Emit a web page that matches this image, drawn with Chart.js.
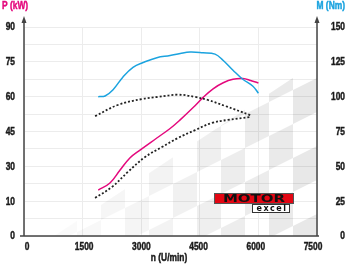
<!DOCTYPE html>
<html>
<head>
<meta charset="utf-8">
<script src="https://cdn.jsdelivr.net/npm/chart.js@4/dist/chart.umd.min.js"></script>
<style>
    html, body { margin: 0; padding: 0; background: #fff; }
    #wrap { width: 346px; height: 265px; position: relative; }
</style>
</head>
<body>
<div id="wrap"><canvas id="chart"></canvas></div>
<script>
// Axis tick labels
const pLabels = ['0', '10', '30', '45', '60', '75', '90'];
const mLabels = ['0', '25', '50', '75', '100', '125', '150'];
const nLabels = ['0', '1500', '3000', '4500', '6000', '7500'];

// Power P (kW) - new engine
const powerRpm = [1900, 2200, 2460, 2710, 2970, 3400, 3740, 3990, 4330, 4580, 4840, 5100, 5350, 5600, 5800, 6000];
const powerKw = [19.8, 22.8, 28.4, 33.6, 37, 42.2, 46.3, 49.9, 55.3, 59.6, 63.4, 66, 67.5, 67.8, 67, 65.9];

// Torque M (Nm) - new engine
const torqueRpm = [1900, 2075, 2280, 2530, 2790, 3050, 3400, 3740, 4000, 4250, 4580, 4890, 5100, 5350, 5600, 5860, 6000];
const torqueNm = [100, 100.5, 105, 114, 121, 124.5, 128, 129.5, 131, 132, 131.5, 130.5, 126, 119, 112.5, 107.5, 102.5];

// Comparison engine (dotted)
const cmpPowerRpm = [1820, 2250, 2660, 3100, 3530, 3940, 4380, 4810, 5220, 5790];
const cmpPowerKw = [16.4, 21.1, 27.6, 34, 38.3, 42.2, 45.6, 48.7, 50, 51.2];
const cmpTorqueRpm = [1820, 2400, 3020, 3430, 3940, 4380, 4710, 5150, 5790];
const cmpTorqueNm = [86, 94, 98.3, 99.8, 101.4, 99.8, 97.6, 93.3, 86.8];

const colors = {
    power: '#e4097d',
    torque: '#1ba3df',
    compare: '#222222',
    axis: '#444444',
    grid: '#ececec',
    text: '#1a1a1a'
};

const FONT = "'Liberation Sans', Arial, sans-serif";

function toPoints(xs, ys) {
    return xs.map((x, i) => ({ x: x, y: ys[i] }));
}

function lineSet(label, xs, ys, color, axis, dashed) {
    return {
        label: label,
        data: toPoints(xs, ys),
        yAxisID: axis,
        borderColor: color,
        borderWidth: dashed ? 1.8 : 1.5,
        borderDash: dashed ? [2, 2] : [],
        pointRadius: 0,
        fill: false,
        tension: 0.4
    };
}

// condensed bold text (no narrow font installed, so squeeze it)
function narrowText(ctx, text, x, y, align, color, size) {
    ctx.save();
    ctx.translate(x, y);
    ctx.scale(0.8, 1);
    ctx.font = 'bold ' + size + 'px ' + FONT;
    ctx.textAlign = align;
    ctx.textBaseline = 'middle';
    ctx.fillStyle = color;
    ctx.strokeStyle = color;
    ctx.lineWidth = 0.45;
    ctx.fillText(text, 0, 0);
    ctx.strokeText(text, 0, 0);
    ctx.restore();
}

// Light checkered flag in the background
const flagBackground = {
    id: 'flagBackground',
    beforeDatasetsDraw(chart) {
        const { ctx, chartArea: { left, right, top, bottom } } = chart;
        ctx.save();
        ctx.beginPath();
        ctx.moveTo(left + 30, bottom);
        ctx.lineTo(right, bottom);
        ctx.lineTo(right, top + 35);
        ctx.closePath();
        ctx.clip();
        ctx.translate(right, bottom);
        ctx.transform(1, -0.5, 0, 1, 0, 0);
        ctx.fillStyle = '#000';
        const w = 24, h = 34;
        for (let i = 0; i < 12; i++) {
            ctx.globalAlpha = Math.max(0.015, 0.09 - i * 0.007);
            for (let j = -2; j < 8; j++) {
                if ((i + j) % 2 === 0) ctx.fillRect(-(i + 1) * w, -(j + 1) * h + 12, w, h);
            }
        }
        ctx.restore();
    }
};

// Axis lines with arrows, labels, titles and logo
const axisDecor = {
    id: 'axisDecor',
    afterDraw(chart) {
        const { ctx, chartArea: { left, right, bottom } } = chart;
        const sx = chart.scales.x, sp = chart.scales.yP, sm = chart.scales.yM;
        ctx.save();
        ctx.strokeStyle = colors.axis;
        ctx.fillStyle = colors.axis;
        ctx.lineWidth = 1.5;
        ctx.beginPath();
        ctx.moveTo(left, bottom);
        ctx.lineTo(left, 21);
        ctx.moveTo(right, bottom);
        ctx.lineTo(right, 21);
        ctx.moveTo(20, bottom);
        ctx.lineTo(right + 2, bottom);
        ctx.stroke();
        [left, right].forEach(x => {
            ctx.beginPath();
            ctx.moveTo(x - 2.5, 23);
            ctx.lineTo(x + 2.5, 23);
            ctx.lineTo(x, 16);
            ctx.closePath();
            ctx.fill();
        });
        ctx.restore();

        // tick labels
        nLabels.forEach((t, i) => {
            narrowText(ctx, t, sx.getPixelForValue(i * 1500) + 3 - i * 1.4, 247, 'center', colors.text, 10.5);
        });
        pLabels.forEach((t, i) => {
            narrowText(ctx, t, 15, sp.getPixelForValue(i * 15) + 0.5, 'right', colors.text, 10.5);
        });
        mLabels.forEach((t, i) => {
            narrowText(ctx, t, 345, sm.getPixelForValue(i * 25) + 0.5, 'right', colors.text, 10.5);
        });
        narrowText(ctx, 'n (U/min)', 169, 258, 'center', colors.text, 10.5);
        narrowText(ctx, 'P (kW)', 2, 6, 'left', colors.power, 10.5);
        narrowText(ctx, 'M (Nm)', 345, 6, 'right', colors.torque, 10.5);

        // MOTOR excel logo
        ctx.save();
        ctx.fillStyle = '#e30613';
        ctx.fillRect(214, 193, 80, 11);
        ctx.strokeStyle = '#555';
        ctx.lineWidth = 1;
        ctx.strokeRect(214.5, 193.5, 79, 10);
        ctx.translate(254, 199);
        ctx.scale(1.5, 1);
        ctx.fillStyle = '#111';
        ctx.font = 'bold 10px "DejaVu Sans", sans-serif';
        ctx.textAlign = 'center';
        ctx.textBaseline = 'middle';
        ctx.fillText('MOTOR', 0, 0);
        ctx.restore();

        ctx.save();
        ctx.fillStyle = '#fff';
        ctx.fillRect(252, 204, 38, 9);
        ctx.strokeStyle = '#333';
        ctx.lineWidth = 1;
        ctx.strokeRect(252.5, 204.5, 37, 8);
        ctx.fillStyle = '#111';
        ctx.font = 'bold 8px "DejaVu Sans", sans-serif';
        ctx.textAlign = 'center';
        ctx.textBaseline = 'middle';
        ctx.letterSpacing = '1.5px';
        ctx.fillText('excel', 272, 209);
        ctx.restore();
    }
};

new Chart(document.getElementById('chart'), {
    type: 'line',
    data: {
        datasets: [
            lineSet('Vergleich M', cmpTorqueRpm, cmpTorqueNm, colors.compare, 'yM', true),
            lineSet('Vergleich P', cmpPowerRpm, cmpPowerKw, colors.compare, 'yP', true),
            lineSet('M (Nm)', torqueRpm, torqueNm, colors.torque, 'yM', false),
            lineSet('P (kW)', powerRpm, powerKw, colors.power, 'yP', false)
        ]
    },
    options: {
        responsive: true,
        maintainAspectRatio: false,
        animation: false,
        layout: { padding: { top: 27, left: 0, right: 0, bottom: 0 } },
        plugins: {
            legend: { display: false },
            tooltip: { enabled: false }
        },
        scales: {
            x: {
                type: 'linear',
                min: 0,
                max: 7500,
                afterFit: scale => { scale.height = 29; },
                border: { display: false },
                grid: { color: colors.grid, drawTicks: false },
                ticks: { stepSize: 1500, display: false }
            },
            yP: {
                position: 'left',
                min: 0,
                max: 90,
                afterFit: scale => { scale.width = 24; },
                border: { display: false },
                grid: { color: colors.grid, drawTicks: false },
                ticks: { stepSize: 7.5, display: false }
            },
            yM: {
                position: 'right',
                min: 0,
                max: 150,
                afterFit: scale => { scale.width = 29; },
                border: { display: false },
                grid: { display: false },
                ticks: { stepSize: 25, display: false }
            }
        }
    },
    plugins: [flagBackground, axisDecor]
});
</script>
</body>
</html>
